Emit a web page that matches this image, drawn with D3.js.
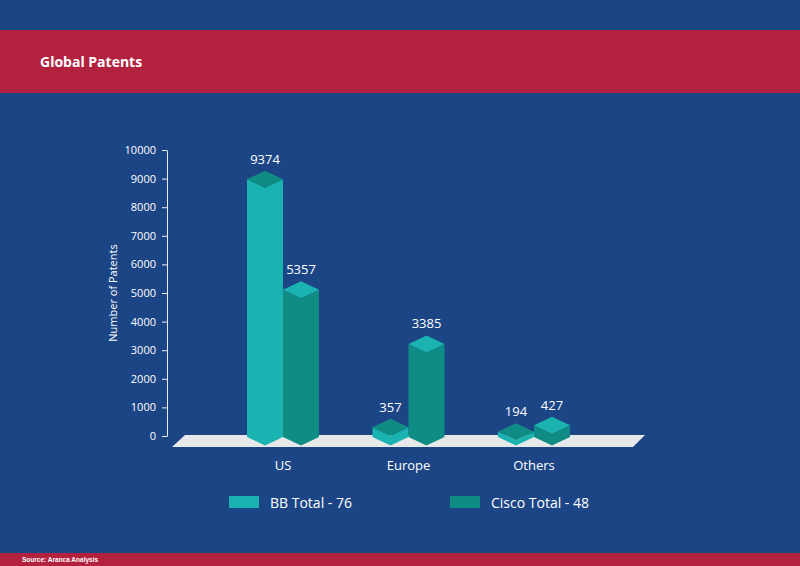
<!DOCTYPE html>
<html>
<head>
<meta charset="utf-8">
<script src="https://cdn.jsdelivr.net/npm/d3@7"></script>
<style>
  body { margin: 0; background: #1c4585; }
  svg { display: block; }
  text { font-family: "Open Sans", sans-serif; fill: #fff; }
</style>
</head>
<body>
<svg width="800" height="566"></svg>
<script>
var width = 800;
var height = 566;

// data
var regions = ['US', 'Europe', 'Others'];
var series = ['BB Total - 76', 'Cisco Total - 48'];
var bbPatents = [9374, 357, 194];
var ciscoPatents = [5357, 3385, 427];
var yTicks = [0, 1000, 2000, 3000, 4000, 5000, 6000, 7000, 8000, 9000, 10000];

var light = '#1bb3b1';
var dark = '#0f8c84';
var barColors = [{body: light, top: dark}, {body: dark, top: light}];

var svg = d3.select('svg');

// backdrop, header and footer bands
svg.append('rect').attr('width', width).attr('height', height).attr('fill', '#1c4585');
svg.append('rect').attr('y', 30).attr('width', width).attr('height', 63).attr('fill', '#b2223f');
svg.append('rect').attr('y', 553).attr('width', width).attr('height', 13).attr('fill', '#b2223f');

svg.append('text')
    .attr('x', 40).attr('y', 67)
    .style('font-size', '14px').style('font-weight', 'bold')
    .text('Global Patents');

svg.append('text')
    .attr('x', 22).attr('y', 562)
    .style('font-family', 'Liberation Sans, Arial, sans-serif')
    .style('font-size', '6.5px').style('font-weight', 'bold')
    .text('Source: Aranca Analysis');

// scales
var yAxisScale = d3.scaleLinear().domain([0, 10000]).range([436, 150]);
var yBar = d3.scaleLinear().domain([0, 10000]).range([437, 162]); // top-face centre of the prisms
var x = d3.scalePoint().domain(regions).range([283, 534]);
var xInner = d3.scalePoint().domain(series).range([-18, 18]);

var halfW = 18, depth = 8.5;
var base = yBar(0);

// floor
var floorPts = [[185, 435], [645, 435], [633, 447], [172, 447]];
svg.append('polygon')
    .attr('points', floorPts.map(p => p.join(',')).join(' '))
    .attr('fill', '#e7e8ea');

// axis
var axis = svg.append('g')
    .attr('transform', 'translate(167,0)')
    .call(d3.axisLeft(yAxisScale).tickValues(yTicks).tickSize(5).tickSizeOuter(0).tickPadding(6).tickFormat(d3.format('d')));
axis.select('.domain').attr('stroke', '#e8eef6');
axis.selectAll('.tick line').attr('stroke', '#e8eef6');
axis.selectAll('.tick text')
    .style('font-family', 'Open Sans, sans-serif')
    .style('font-size', '11px').attr('fill', '#fff');

svg.append('text')
    .attr('transform', 'translate(117,293) rotate(-90)')
    .attr('text-anchor', 'middle')
    .style('font-size', '11px')
    .text('Number of Patents');

// bars as diamond prisms
var bars = [];
regions.forEach(function(r, i) {
    bars.push({region: r, s: 0, value: bbPatents[i]});
    bars.push({region: r, s: 1, value: ciscoPatents[i]});
});

function bodyPath(d) {
    var cx = x(d.region) + xInner(series[d.s]);
    var t = yBar(d.value);
    return [[cx - halfW, t], [cx, t + depth], [cx + halfW, t], [cx + halfW, base], [cx, base + depth], [cx - halfW, base]]
        .map(p => p.join(',')).join(' ');
}
function topPath(d) {
    var cx = x(d.region) + xInner(series[d.s]);
    var t = yBar(d.value);
    return [[cx, t - depth], [cx + halfW, t], [cx, t + depth], [cx - halfW, t]]
        .map(p => p.join(',')).join(' ');
}

var g = svg.selectAll('g.bar').data(bars).enter().append('g').attr('class', 'bar');
g.append('polygon').attr('points', bodyPath).attr('fill', d => barColors[d.s].body);
g.append('polygon').attr('points', topPath).attr('fill', d => barColors[d.s].top);
g.append('text')
    .attr('x', d => x(d.region) + xInner(series[d.s]))
    .attr('y', d => yBar(d.value) - depth - 7)
    .attr('text-anchor', 'middle')
    .style('font-size', '13px')
    .text(d => d.value);

// category labels
svg.selectAll('text.cat').data(regions).enter().append('text')
    .attr('class', 'cat')
    .attr('x', d => x(d))
    .attr('y', 470)
    .attr('text-anchor', 'middle')
    .style('font-size', '13px')
    .text(d => d);

// legend
var legendX = [229, 450];
var lg = svg.selectAll('g.legend').data(series).enter().append('g')
    .attr('class', 'legend')
    .attr('transform', (d, i) => 'translate(' + legendX[i] + ',496)');
lg.append('rect').attr('width', 30).attr('height', 12).attr('fill', (d, i) => barColors[i].body);
lg.append('text').attr('x', 41).attr('y', 11.5).style('font-size', '14px').text(d => d);
</script>
</body>
</html>
